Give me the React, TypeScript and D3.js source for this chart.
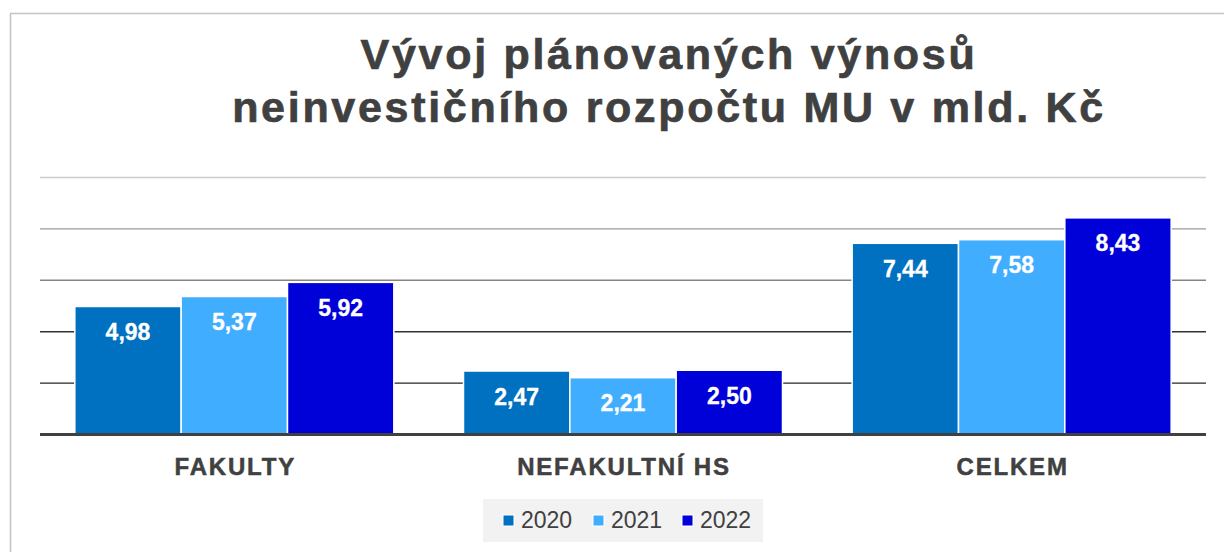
import React from "react";
import * as d3 from "d3";

const categories = ["FAKULTY", "NEFAKULTNÍ HS", "CELKEM"];
const years = ["2020", "2021", "2022"];
const values2020 = [4.98, 2.47, 7.44];
const values2021 = [5.37, 2.21, 7.58];
const values2022 = [5.92, 2.5, 8.43];
const yTicks = [2, 4, 6, 8, 10];
const titleLines = ["Vývoj plánovaných výnosů", "neinvestičního rozpočtu MU v mld. Kč"];

const seriesColors = ["#0070C0", "#41ADFF", "#0000D8"];
const gridColors: Record<number, string> = { 2: "#262626", 4: "#333333", 6: "#858585", 8: "#9a9a9a", 10: "#cccccc" };

const W = 1224;
const H = 552;

export default function App() {
  const series = [values2020, values2021, values2022];
  const plotLeft = 40;
  const plotRight = 1206;
  const x0 = d3.scaleBand<string>().domain(categories).range([plotLeft, plotRight]).padding(0);
  const bw = x0.bandwidth();
  const groupW = 319;
  const x1 = d3
    .scaleBand<string>()
    .domain(years)
    .range([(bw - groupW) / 2, (bw + groupW) / 2])
    .padding(0);
  const y = d3.scaleLinear().domain([0, 10]).range([434.5, 177.5]);
  const fmt = (v: number) => d3.format(".2f")(v).replace(".", ",");

  return (
    <svg
      width={W}
      height={H}
      style={{ position: "absolute", left: 0, top: 0, background: "#fff" }}
      fontFamily="'Liberation Sans', Arial, sans-serif"
    >
      <rect x={10.5} y={13.5} width={W + 20} height={H + 20} fill="none" stroke="#c4c4c4" strokeWidth={1.5} />
      {titleLines.map((t, i) => (
        <text
          key={i}
          x={669}
          y={68.5 + i * 53.5}
          textAnchor="middle"
          fontSize={43}
          fontWeight="bold"
          letterSpacing={2.7}
          fill="#404040"
          stroke="#404040"
          strokeWidth={0.7}
        >
          {t}
        </text>
      ))}
      {yTicks.map((t) => (
        <line key={t} x1={plotLeft} x2={plotRight} y1={y(t)} y2={y(t)} stroke={gridColors[t]} strokeWidth={1.4} />
      ))}
      {categories.map((c, ci) => (
        <g key={c} transform={`translate(${x0(c)},0)`}>
          {years.map((yr, si) => {
            const v = series[si][ci];
            const bx = x1(yr)!;
            const bwid = x1.bandwidth();
            return (
              <g key={yr}>
                <rect
                  x={bx}
                  y={y(v)}
                  width={bwid}
                  height={y(0) - y(v)}
                  fill={seriesColors[si]}
                  stroke="#ffffff"
                  strokeWidth={1.5}
                />
                <text
                  x={bx + bwid / 2}
                  y={y(v) + 33.5}
                  textAnchor="middle"
                  fontSize={23}
                  fontWeight="bold"
                  fill="#ffffff"
                  stroke="#ffffff"
                  strokeWidth={0.3}
                >
                  {fmt(v)}
                </text>
              </g>
            );
          })}
          <text
            x={bw / 2 + 1}
            y={474.5}
            textAnchor="middle"
            fontSize={24}
            fontWeight="bold"
            letterSpacing={1.8}
            fill="#404040"
            stroke="#404040"
            strokeWidth={0.5}
          >
            {c}
          </text>
        </g>
      ))}
      <line x1={plotLeft} x2={plotRight} y1={y(0)} y2={y(0)} stroke="#404040" strokeWidth={3} />
      <rect x={483} y={499} width={280} height={43} fill="#f2f2f2" />
      {years.map((yr, i) => {
        const lx = [503, 593, 682][i];
        return (
          <g key={yr}>
            <rect x={lx} y={515} width={11} height={11} fill={seriesColors[i]} stroke="#fff" strokeWidth={1} />
            <text x={lx + 18} y={528} fontSize={23} fill="#404040">
              {yr}
            </text>
          </g>
        );
      })}
    </svg>
  );
}
